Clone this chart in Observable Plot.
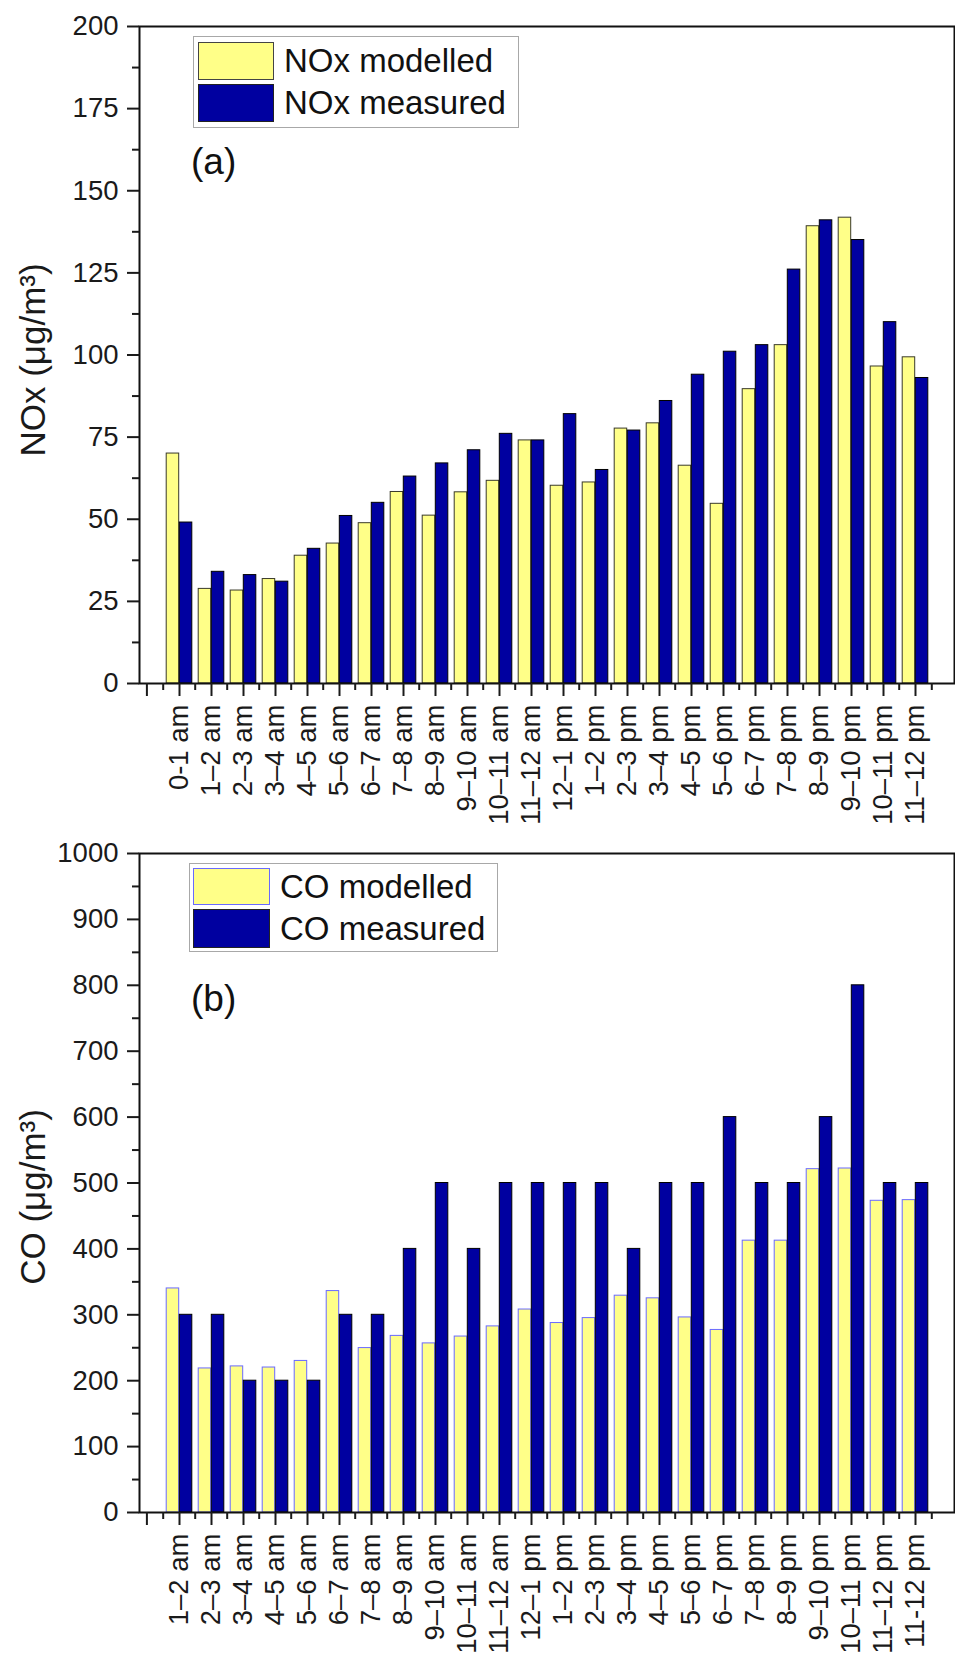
<!DOCTYPE html>
<html>
<head>
<meta charset="utf-8">
<script src="https://cdn.jsdelivr.net/npm/d3@7"></script>
<script src="https://cdn.jsdelivr.net/npm/@observablehq/plot@0.6"></script>
<style>
  html, body { margin: 0; padding: 0; background: #fff; }
  #wrap { position: relative; width: 955px; height: 1655px; font-family: "Liberation Sans", Arial, sans-serif; color: #111; }
  #wrap svg { display: block; }
  .legend { position: absolute; border: 1.5px solid #a8a8a8; box-sizing: border-box; background: #fff; }
  .sw { position: absolute; box-sizing: border-box; }
  .lt { position: absolute; font-size: 33px; white-space: nowrap; }
  .tag { position: absolute; font-size: 37px; line-height: 40px; height: 40px; }
</style>
</head>
<body>
<div id="wrap"></div>
<script>
// ---------- data ----------
const hoursA = ["0-1 am","1–2 am","2–3 am","3–4 am","4–5 am","5–6 am","6–7 am","7–8 am","8–9 am","9–10 am","10–11 am","11–12 am",
                "12–1 pm","1–2 pm","2–3 pm","3–4 pm","4–5 pm","5–6 pm","6–7 pm","7–8 pm","8–9 pm","9–10 pm","10–11 pm","11–12 pm"];
const noxModelled = [70, 28.8, 28.3, 31.8, 38.9, 42.6, 48.8, 58.3, 51.1, 58.2, 61.7, 74, 60.2, 61.2, 77.6, 79.2, 66.3, 54.7, 89.6, 103, 139.2, 141.8, 96.5, 99.3];
const noxMeasured = [49, 34, 33, 31, 41, 51, 55, 63, 67, 71, 76, 74, 82, 65, 77, 86, 94, 101, 103, 126, 141, 135, 110, 93];

const hoursB = ["1–2 am","2–3 am","3–4 am","4–5 am","5–6 am","6–7 am","7–8 am","8–9 am","9–10 am","10–11 am","11–12 am",
                "12–1 pm","1–2 pm","2–3 pm","3–4 pm","4–5 pm","5–6 pm","6–7 pm","7–8 pm","8–9 pm","9–10 pm","10–11 pm","11–12 pm","11-12 pm"];
const coModelled = [340, 218.6, 221.7, 220, 230, 336, 249.5, 268, 256.6, 267, 282.4, 308, 287.5, 295, 329, 325, 296, 277, 412.5, 412.5, 521, 522, 473, 474];
const coMeasured = [300, 300, 200, 200, 200, 300, 300, 400, 500, 400, 500, 500, 500, 500, 400, 500, 500, 600, 500, 500, 600, 800, 500, 500];

const noxTicks = d3.range(0, 201, 25);
const noxMinor = d3.range(12.5, 200, 25);
const coTicks = d3.range(0, 1001, 100);
const coMinor = d3.range(50, 1000, 100);

// ---------- styles ----------
const YELLOW = "#FFFF88";
const BLUE = "#0000A0";
const W = 955, ML = 139, MR = 1;
const BW = (W - ML - MR) / 25;   // band width

function chart({cats, modelled, measured, ticks, minor, yMax, label, height, mt, mb, yellowStroke, labelDy}) {
  const rows = cats.map((c, i) => ({c, m: modelled[i], v: measured[i]}));
  const fs = 27.5;
  return Plot.plot({
    width: W, height,
    marginLeft: ML, marginRight: MR, marginTop: mt, marginBottom: mb,
    style: {fontFamily: '"Liberation Sans", Arial, sans-serif', fontSize: fs + "px", color: "#1a1a1a", background: "#fff"},
    x: {type: "band", domain: cats, paddingInner: 0, paddingOuter: 0.5, align: 0.5, label: null},
    y: {domain: [0, yMax], label: null},
    marks: [
      Plot.barY(rows, {x: "c", y: "m", fill: YELLOW, stroke: yellowStroke, strokeWidth: 1, insetLeft: 3.2, insetRight: BW / 2}),
      Plot.barY(rows, {x: "c", y: "v", fill: BLUE, stroke: "#000", strokeWidth: 1, insetLeft: BW / 2, insetRight: 3.2}),
      Plot.frame({stroke: "#111", strokeWidth: 2}),
      Plot.axisY(ticks, {tickSize: 12, tickPadding: 9, fontSize: fs, strokeWidth: 2, tickFormat: d3.format("d"), label: null}),
      Plot.axisY(minor, {tickSize: 7, strokeWidth: 2, tickFormat: () => "", label: null}),
      Plot.axisX({tickSize: 13, tickPadding: 8, tickRotate: -90, fontSize: fs, strokeWidth: 2, label: null}),
      Plot.axisX(cats, {tickSize: 7, strokeWidth: 2, dx: -BW / 2, tickFormat: () => "", label: null}),
      Plot.axisX([cats[cats.length - 1]], {tickSize: 7, strokeWidth: 2, dx: BW / 2, tickFormat: () => "", label: null}),
      Plot.axisX([cats[0]], {tickSize: 13, strokeWidth: 2, dx: -BW, tickFormat: () => "", label: null}),
      Plot.text([label], {frameAnchor: "left", text: d => d, rotate: -90, textAnchor: "middle", lineAnchor: "middle",
        dx: -106, dy: labelDy, fontSize: 35, fill: "#1a1a1a"})
    ]
  });
}

const wrap = document.getElementById("wrap");
wrap.appendChild(chart({cats: hoursA, modelled: noxModelled, measured: noxMeasured, ticks: noxTicks, minor: noxMinor,
  yMax: 200, label: "NOx (μg/m³)", height: 835, mt: 26, mb: 152, yellowStroke: "#3a3a2a", labelDy: 5}));
wrap.appendChild(chart({cats: hoursB, modelled: coModelled, measured: coMeasured, ticks: coTicks, minor: coMinor,
  yMax: 1000, label: "CO (μg/m³)", height: 820, mt: 18, mb: 143, yellowStroke: "#6a6aff", labelDy: 14}));

// ---------- legends & panel tags ----------
function legend(box, items) {
  const lg = document.createElement("div");
  lg.className = "legend";
  Object.assign(lg.style, {left: box.x + "px", top: box.y + "px", width: box.w + "px", height: box.h + "px"});
  wrap.appendChild(lg);
  items.forEach((it) => {
    const s = document.createElement("div");
    s.className = "sw";
    Object.assign(s.style, {left: box.sx + "px", top: it.top + "px", width: box.sw + "px", height: it.h + "px",
      background: it.color, border: "1.5px solid " + it.stroke});
    wrap.appendChild(s);
    const t = document.createElement("div");
    t.className = "lt";
    t.textContent = it.text;
    Object.assign(t.style, {left: box.tx + "px", top: it.top + "px", height: it.h + "px", lineHeight: it.h + "px"});
    wrap.appendChild(t);
  });
}
legend({x: 193, y: 36, w: 326, h: 92, sx: 198, sw: 76, tx: 284},
  [{text: "NOx modelled", color: YELLOW, stroke: "#444", top: 42, h: 38},
   {text: "NOx measured", color: BLUE, stroke: "#222", top: 84, h: 38}]);
legend({x: 189, y: 863, w: 309, h: 89, sx: 193, sw: 77, tx: 280},
  [{text: "CO modelled", color: YELLOW, stroke: "#6a6aff", top: 868, h: 37},
   {text: "CO measured", color: BLUE, stroke: "#222", top: 909, h: 39}]);

function tag(text, x, y) {
  const d = document.createElement("div");
  d.className = "tag";
  d.textContent = text;
  Object.assign(d.style, {left: x + "px", top: y + "px"});
  wrap.appendChild(d);
}
tag("(a)", 191, 142);
tag("(b)", 191, 979);
</script>
</body>
</html>
